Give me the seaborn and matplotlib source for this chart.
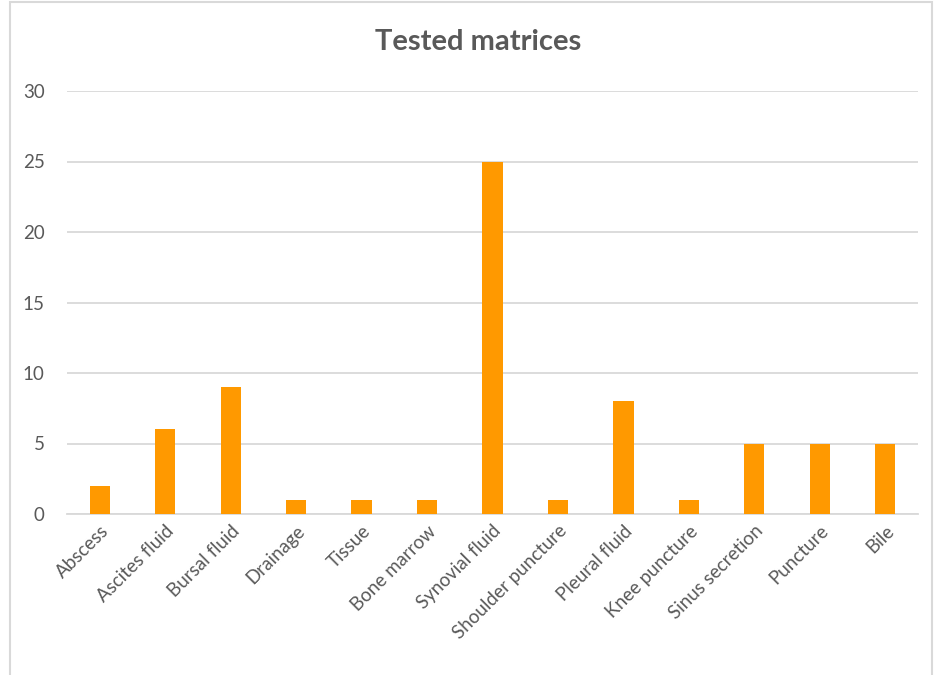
import matplotlib
matplotlib.use("Agg")
import matplotlib.pyplot as plt
from matplotlib.patches import Rectangle
import seaborn as sns
import pandas as pd

categories = ["Abscess", "Ascites fluid", "Bursal fluid", "Drainage", "Tissue",
              "Bone marrow", "Synovial fluid", "Shoulder puncture", "Pleural fluid",
              "Knee puncture", "Sinus secretion", "Puncture", "Bile"]
counts = [2, 6, 9, 1, 1, 1, 25, 1, 8, 1, 5, 5, 5]
y_ticks = [0, 5, 10, 15, 20, 25, 30]

df = pd.DataFrame({"matrix": categories, "count": counts})

sns.set_theme(style="white")
plt.rcParams["font.family"] = ["Lato", "DejaVu Sans"]

W, H = 935, 675
fig = plt.figure(figsize=(W / 100, H / 100), dpi=100)
ax = fig.add_axes([67 / W, 1 - 514 / H, (918 - 67) / W, (514 - 91) / H])

sns.barplot(data=df, x="matrix", y="count", color="#FF9900", saturation=1,
            width=0.31, ax=ax, edgecolor="none", zorder=3)

ax.set_ylim(0, 30)
ax.set_xlim(-0.5, len(categories) - 0.5)
ax.set_yticks(y_ticks)
ax.yaxis.grid(True, color="#D9D9D9", linewidth=1.3, zorder=0)
ax.set_axisbelow(True)
for side in ["top", "right", "left"]:
    ax.spines[side].set_visible(False)
ax.spines["bottom"].set_color("#D9D9D9")
ax.spines["bottom"].set_linewidth(1.3)

ax.set_xlabel("")
ax.set_ylabel("")
ax.tick_params(axis="both", length=0, colors="#595959", labelsize=13.5)
ax.tick_params(axis="y", pad=16)
ax.tick_params(axis="x", pad=6)
for lbl in ax.get_xticklabels():
    lbl.set_rotation(45)
    lbl.set_ha("right")
    lbl.set_rotation_mode("anchor")

fig.text(478 / W, 1 - 42 / H, "Tested matrices", ha="center", va="center",
         fontsize=21, fontweight="bold", color="#595959")

# chart frame
fig.patches.append(Rectangle((10 / W, -0.1), (932 - 10) / W, 1.1 - 2 / H,
                             transform=fig.transFigure, fill=False,
                             edgecolor="#D9D9D9", linewidth=1.5))

fig.savefig("out.png", dpi=100, facecolor="white")
